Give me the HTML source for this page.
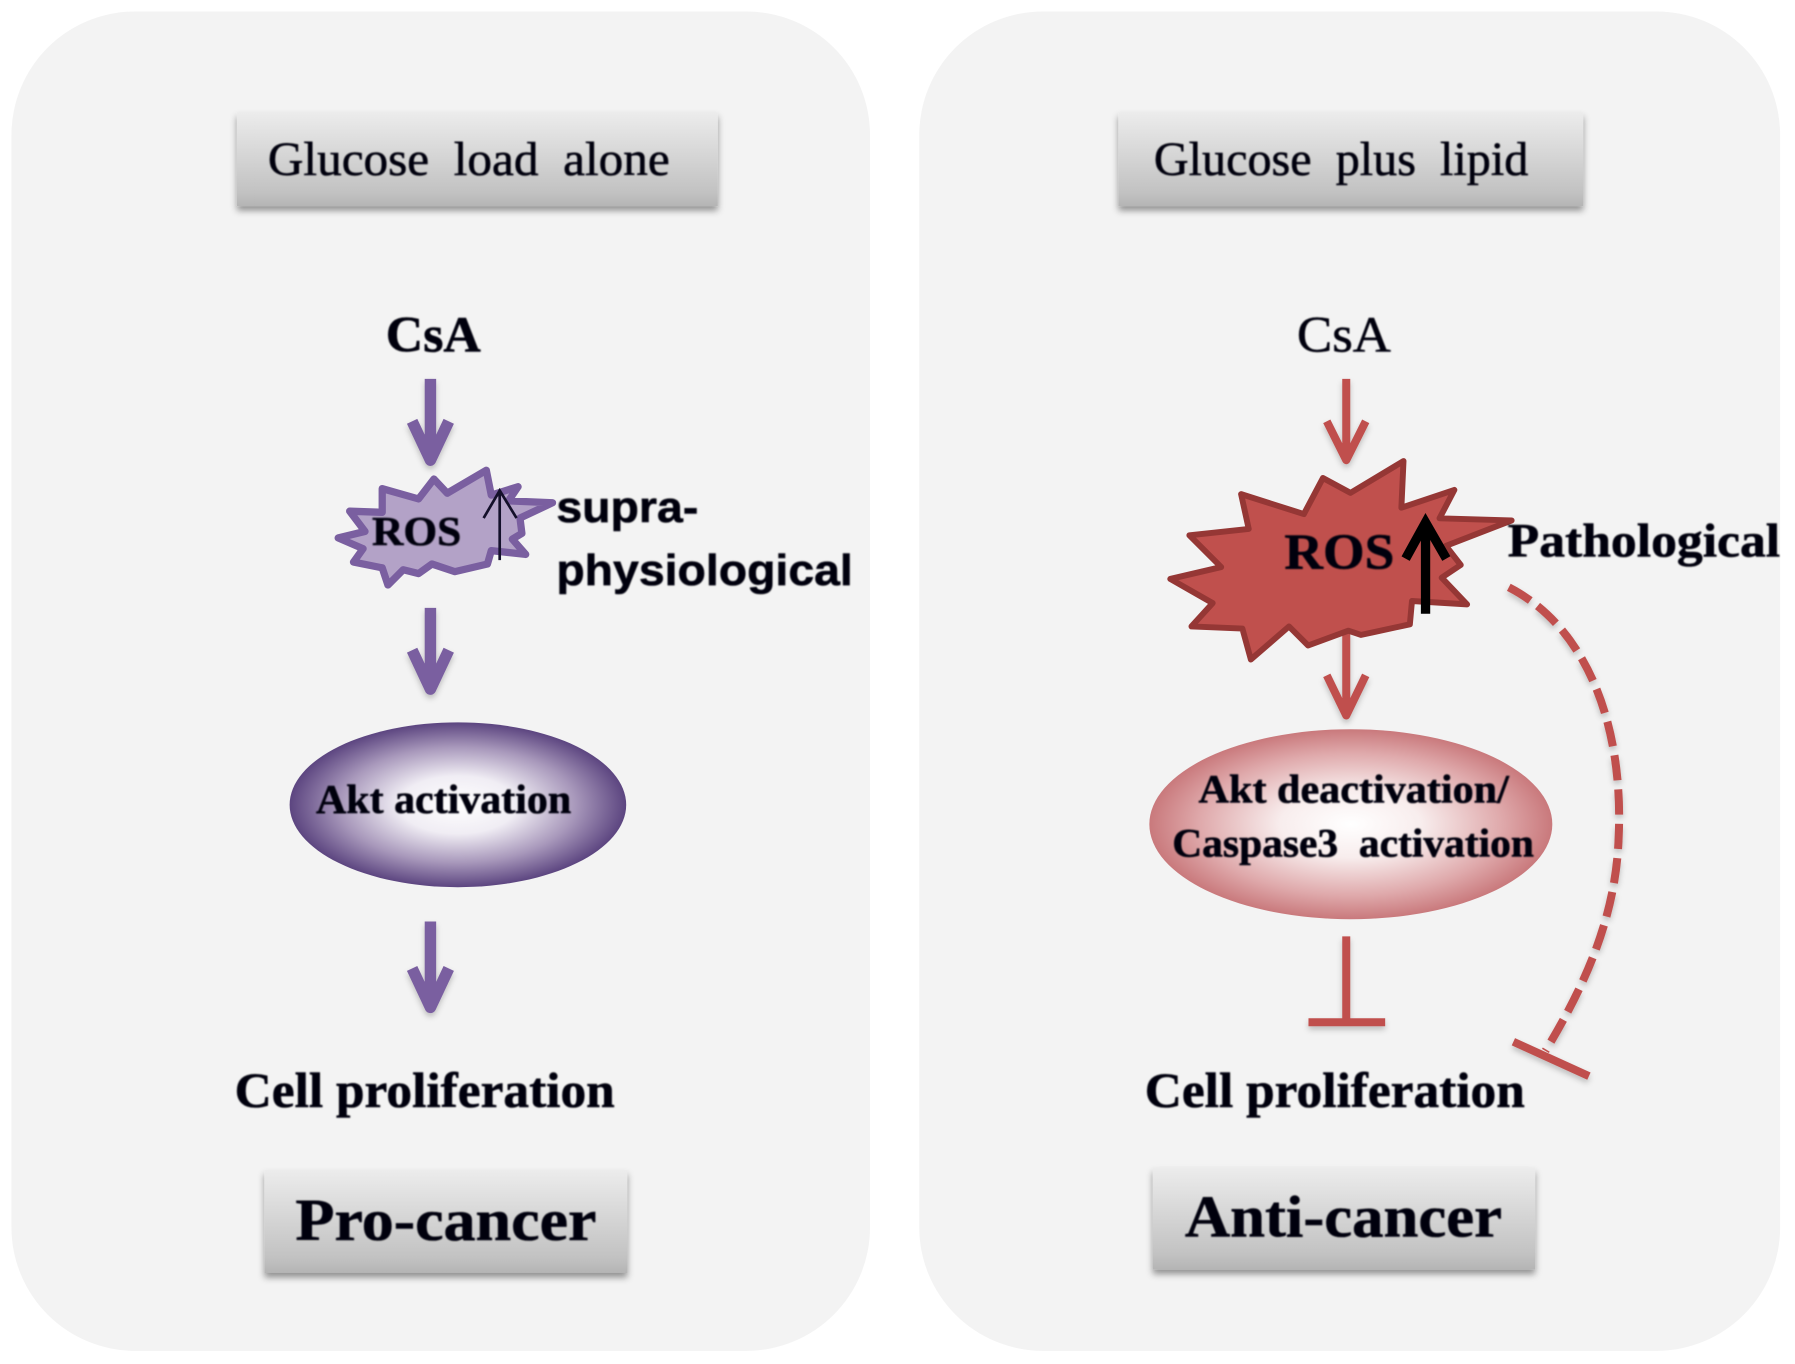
<!DOCTYPE html>
<html><head><meta charset="utf-8"><style>
html,body{margin:0;padding:0;background:#fff;width:1795px;height:1364px;overflow:hidden}
svg{display:block}
text{font-family:"Liberation Serif",serif;fill:#05050f;stroke:#05050f;stroke-width:.5px}
.b{font-weight:bold}
.s{font-family:"Liberation Sans",sans-serif;font-weight:bold}
</style></head><body>
<svg width="1795" height="1364" viewBox="0 0 1568 1191.5" xmlns="http://www.w3.org/2000/svg">
<defs>
<linearGradient id="bx" x1="0" y1="0" x2="0" y2="1"><stop offset="0" stop-color="#ececec"/><stop offset=".85" stop-color="#c2c2c2"/><stop offset="1" stop-color="#b4b4b4"/></linearGradient>
<radialGradient id="pu"><stop offset="0" stop-color="#fff"/><stop offset=".35" stop-color="#f0edf4"/><stop offset=".7" stop-color="#a898bb"/><stop offset="1" stop-color="#5c4580"/></radialGradient>
<radialGradient id="re"><stop offset="0" stop-color="#fff"/><stop offset=".35" stop-color="#f8eded"/><stop offset=".75" stop-color="#dfa9ab"/><stop offset="1" stop-color="#c9797c"/></radialGradient>
<filter id="sh" x="-10%" y="-20%" width="120%" height="150%"><feDropShadow dx="0" dy="4" stdDeviation="3" flood-color="#000" flood-opacity=".4"/></filter>
<filter id="ash" x="-60%" y="-10%" width="220%" height="130%"><feDropShadow dx="0" dy="3" stdDeviation="2.5" flood-color="#000" flood-opacity=".22"/></filter>
<filter id="soft"><feGaussianBlur stdDeviation=".6"/></filter>
</defs>

<rect x="10" y="10" width="750" height="1170" rx="108" fill="#f3f3f3"/>
<rect x="803" y="10" width="752" height="1170" rx="108" fill="#f3f3f3"/>

<g filter="url(#sh)">
<rect x="207" y="98" width="420" height="82" fill="url(#bx)"/>
<rect x="977" y="98" width="406" height="82" fill="url(#bx)"/>
<rect x="231" y="1022" width="317" height="90" fill="url(#bx)"/>
<rect x="1007" y="1020" width="334" height="89" fill="url(#bx)"/>
</g>

<g fill="none" stroke="#7a5fa0" stroke-width="10" filter="url(#ash)" stroke-linejoin="round">
<path d="M376 331V400M360 368L376 402L392 368"/>
<path d="M376 531V600M360 568L376 602L392 568"/>
<path d="M376 805V878M360 846L376 880L392 846"/>
</g>

<g transform="translate(262,262) scale(.3343)">
<path d="M100 622L170 605L130 552L215 555L215 493L310 520L350 468L385 505L487 445L500 510L570 488L545 525L660 530L575 570L580 610L555 625L590 665L500 655L490 690L405 710L345 690L310 715L270 705L230 745L215 700L140 685L165 650Z" fill="#b3a2c7" stroke="#7a5fa0" stroke-width="19" stroke-linejoin="round"/>
<path d="M522 680V500M480 570L522 498L566 570" fill="none" stroke="#14102a" stroke-width="7"/>
</g>

<ellipse cx="400" cy="703" rx="147" ry="72" fill="url(#pu)"/>

<g fill="none" stroke="#c0504d" stroke-width="7" filter="url(#ash)" stroke-linejoin="round">
<path d="M1176 331V400M1159 368L1176 402L1193 368"/>
<path d="M1176 552V622M1159 590L1176 625L1193 590"/>
<path d="M1176 818V892M1143 893H1210"/>
<path d="M1322 910L1388 940"/>
<path d="M1318 513C1390 550 1418 640 1414 730C1412 800 1385 860 1350 918" stroke-dasharray="22 8"/>
</g>

<g transform="translate(987.1,262) scale(.3704)">
<path d="M95 658L215 630L140 555L280 540L262 458L410 505L455 420L520 455L645 380L640 490L765 448L730 515L900 520L745 580L780 625L735 655L795 718L665 710L660 765L545 790L515 780L420 815L375 770L285 848L265 775L145 770L195 715Z" fill="#c0504d" stroke="#953735" stroke-width="14" stroke-linejoin="round"/>
<path d="M697 740V530M650 610L697 525L746 610" fill="none" stroke="#000" stroke-width="22"/>
</g>

<ellipse cx="1180" cy="720" rx="176" ry="83" fill="url(#re)"/>

<g filter="url(#soft)">
<text x="234" y="153" font-size="42" textLength="351" lengthAdjust="spacingAndGlyphs" xml:space="preserve">Glucose  load  alone</text>
<text x="1008" y="153" font-size="42" textLength="327" lengthAdjust="spacingAndGlyphs" xml:space="preserve">Glucose  plus  lipid</text>
<text x="337" y="307" font-size="44" class="b" textLength="83" lengthAdjust="spacingAndGlyphs">CsA</text>
<text x="1133" y="307" font-size="44" textLength="82" lengthAdjust="spacingAndGlyphs">CsA</text>
<text x="325" y="476" font-size="36" class="b" textLength="78" lengthAdjust="spacingAndGlyphs">ROS</text>
<text x="1122" y="497" font-size="44" class="b" textLength="96" lengthAdjust="spacingAndGlyphs">ROS</text>
<text x="486" y="456" font-size="38" class="s" textLength="124" lengthAdjust="spacingAndGlyphs">supra-</text>
<text x="486" y="511" font-size="38" class="s" textLength="259" lengthAdjust="spacingAndGlyphs">physiological</text>
<text x="1317" y="486" font-size="42" class="b" textLength="238" lengthAdjust="spacingAndGlyphs">Pathological</text>
<text x="276" y="710" font-size="36" class="b" textLength="223" lengthAdjust="spacingAndGlyphs">Akt activation</text>
<text x="1047" y="701" font-size="35" class="b" textLength="271" lengthAdjust="spacingAndGlyphs">Akt deactivation/</text>
<text x="1024" y="748" font-size="35" class="b" textLength="316" lengthAdjust="spacingAndGlyphs" xml:space="preserve">Caspase3  activation</text>
<text x="205" y="967" font-size="43" class="b" textLength="332" lengthAdjust="spacingAndGlyphs">Cell proliferation</text>
<text x="1000" y="967" font-size="43" class="b" textLength="332" lengthAdjust="spacingAndGlyphs">Cell proliferation</text>
<text x="258" y="1083" font-size="52" class="b" textLength="263" lengthAdjust="spacingAndGlyphs">Pro-cancer</text>
<text x="1035" y="1080" font-size="52" class="b" textLength="277" lengthAdjust="spacingAndGlyphs">Anti-cancer</text>
</g>
</svg>
</body></html>
